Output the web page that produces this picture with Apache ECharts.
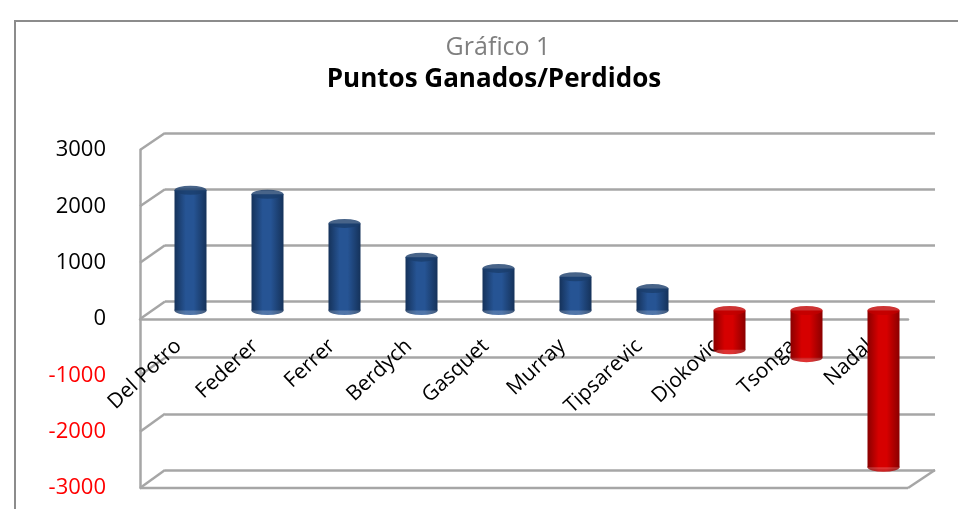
<!DOCTYPE html>
<html>
<head>
<meta charset="utf-8">
<script src="https://cdn.jsdelivr.net/npm/echarts@6/dist/echarts.min.js"></script>
<style>
  html, body { margin: 0; padding: 0; background: #fff; }
  #chart { width: 958px; height: 509px; }
  .frame {
    position: absolute; left: 14px; top: 20px; right: 0; bottom: 0;
    border-left: 2px solid #8c8c8c; border-top: 2px solid #8c8c8c;
    pointer-events: none;
  }
</style>
</head>
<body>
<div id="chart"></div>
<div class="frame"></div>
<script>
// Datos
const players = ["Del Potro", "Federer", "Ferrer", "Berdych", "Gasquet", "Murray", "Tipsarevic", "Djokovic", "Tsonga", "Nadal"];
const points = [2140, 2070, 1550, 950, 750, 600, 390, -700, -840, -2790];
const yMin = -3000;
const yMax = 3000;
const yStep = 1000;

// Paneles (pared del fondo, plano frontal, barras, etiquetas en el cero)
const BACK = { left: 165, right: 23, top: 133, bottom: 39 };
const FRONT = { left: 140, right: 50, top: 150, bottom: 21 };
const BARS = { left: 152, right: 36, top: 142, bottom: 30 };
const LABELS = { left: 140, right: 50, top: 150, bottom: 190 };

const GRID_LINE = "#a6a6a6";
const FONT = "'Open Sans', sans-serif";

const tops = points.map((v, i) => [i, Math.max(v, 0)]);
const bottoms = points.map((v, i) => [i, Math.min(v, 0)]);

function cylinder(dark, light) {
  return new echarts.graphic.LinearGradient(0, 0, 1, 0, [
    { offset: 0, color: dark },
    { offset: 0.35, color: light },
    { offset: 0.6, color: light },
    { offset: 1, color: dark },
  ]);
}

const BLUE_BODY = cylinder("#15325a", "#265494");
const RED_BODY = cylinder("#8a0000", "#d60000");
const isNeg = (i) => points[i] < 0;

const chart = echarts.init(document.getElementById("chart"));

const valueAxis = (gridIndex, extra) => Object.assign({
  type: "value", gridIndex, min: yMin, max: yMax, interval: yStep,
  axisLabel: { show: false }, axisTick: { show: false },
  axisLine: { show: false }, splitLine: { show: false },
}, extra);

const catAxis = (gridIndex, extra) => Object.assign({
  type: "category", gridIndex, data: players,
  axisLabel: { show: false }, axisTick: { show: false },
  axisLine: { show: false }, splitLine: { show: false },
}, extra);

const gridOf = (g) => Object.assign({ outerBoundsMode: "none", containLabel: false }, g);

chart.setOption({
  animation: false,
  title: [
    {
      text: "Gráfico 1", left: 493, textAlign: "center", top: 30,
      textStyle: { color: "#7f7f7f", fontFamily: FONT, fontSize: 25, fontWeight: "normal" },
    },
    {
      text: "Puntos Ganados/Perdidos", left: 489, textAlign: "center", top: 62,
      textStyle: { color: "#000", fontFamily: FONT, fontSize: 26, fontWeight: "bold" },
    },
  ],
  grid: [gridOf(BACK), gridOf(FRONT), gridOf(BARS), gridOf(LABELS)],
  xAxis: [
    catAxis(0),
    catAxis(1),
    catAxis(2),
    catAxis(3, {
      position: "bottom",
      axisLine: { show: true, onZero: false, lineStyle: { color: GRID_LINE, width: 2.5 } },
      axisLabel: {
        show: true, interval: 0, rotate: 43, margin: 24,
        color: "#000", fontFamily: FONT, fontSize: 21,
      },
    }),
  ],
  yAxis: [
    valueAxis(0, { splitLine: { show: true, lineStyle: { color: GRID_LINE, width: 2.5 } } }),
    valueAxis(1, {
      axisLine: { show: true, lineStyle: { color: GRID_LINE, width: 2.5 } },
      axisLabel: {
        show: true, margin: 34, fontFamily: FONT, fontSize: 22,
        formatter: (v) => String(v),
        color: (v) => (Number(v) < 0 ? "#ff0000" : "#000000"),
      },
    }),
    valueAxis(2),
    { type: "value", gridIndex: 3, show: false },
  ],
  series: [
    {
      // base inferior del cilindro
      type: "scatter", xAxisIndex: 2, yAxisIndex: 2,
      symbol: "circle", symbolSize: [32, 9],
      data: bottoms.map((d, i) => ({ value: d, itemStyle: { color: isNeg(i) ? RED_BODY : BLUE_BODY } })),
    },
    {
      type: "bar", xAxisIndex: 2, yAxisIndex: 2, barWidth: 32,
      data: points.map((v, i) => ({ value: v, itemStyle: { color: isNeg(i) ? RED_BODY : BLUE_BODY } })),
    },
    {
      // tapa superior
      type: "scatter", xAxisIndex: 2, yAxisIndex: 2,
      symbol: "circle", symbolSize: [32, 9],
      data: tops.map((d, i) => ({ value: d, itemStyle: { color: isNeg(i) ? "#c00000" : "#1a3d6b" } })),
    },
  ],
});

// Marco 3D: diagonales de la pared lateral y borde del suelo
function drawFrame() {
  const W = chart.getWidth();
  const frontY = (v) => chart.convertToPixel({ yAxisIndex: 1 }, v);
  const backY = (v) => chart.convertToPixel({ yAxisIndex: 0 }, v);
  const style = { stroke: GRID_LINE, lineWidth: 2.5 };
  const lines = [];
  for (let v = yMin; v <= yMax; v += yStep) {
    lines.push({ type: "line", shape: { x1: FRONT.left, y1: frontY(v), x2: BACK.left, y2: backY(v) }, style });
  }
  // suelo inferior
  lines.push({ type: "line", shape: { x1: FRONT.left, y1: frontY(yMin), x2: W - FRONT.right, y2: frontY(yMin) }, style });
  lines.push({ type: "line", shape: { x1: W - FRONT.right, y1: frontY(yMin), x2: W - BACK.right, y2: backY(yMin) }, style });
  chart.setOption({ graphic: lines.map((l) => Object.assign(l, { silent: true })) });
}

drawFrame();
</script>
</body>
</html>
